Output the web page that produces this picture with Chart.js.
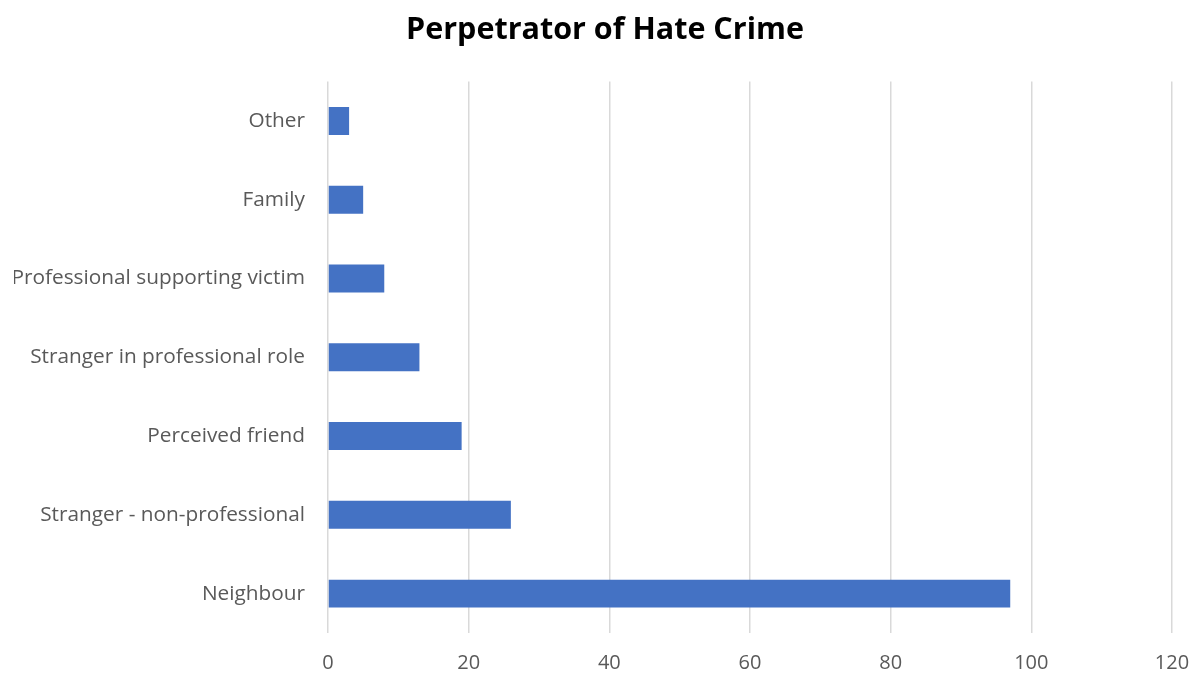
<!DOCTYPE html>
<html>
<head>
<meta charset="utf-8">
<script src="https://cdn.jsdelivr.net/npm/chart.js@4.4.1/dist/chart.umd.min.js"></script>
<style>
  html, body { margin: 0; padding: 0; background: #ffffff; }
  #wrap { width: 1197px; height: 675px; position: relative; }
</style>
</head>
<body>
<div id="wrap"><canvas id="c" width="1197" height="675"></canvas></div>
<script>
const categories = ['Other', 'Family', 'Professional supporting victim', 'Stranger in professional role', 'Perceived friend', 'Stranger - non-professional', 'Neighbour'];
const counts = [3, 5, 8, 13, 19, 26, 97];
const xTicks = [0, 20, 40, 60, 80, 100, 120];
const chartTitle = 'Perpetrator of Hate Crime';

new Chart(document.getElementById('c'), {
  type: 'bar',
  data: {
    labels: categories,
    datasets: [{
      data: counts,
      backgroundColor: '#4472c4',
      borderWidth: 0,
      categoryPercentage: 1.0,
      barPercentage: 0.355
    }]
  },
  options: {
    indexAxis: 'y',
    responsive: false,
    animation: false,
    devicePixelRatio: 1,
    layout: { padding: { left: 14, right: 1, top: 12, bottom: 0 } },
    plugins: {
      legend: { display: false },
      tooltip: { enabled: false },
      title: {
        display: true,
        text: chartTitle,
        color: '#000000',
        font: { family: 'Open Sans', size: 30.5, weight: 'bold' },
        padding: { top: 0, bottom: 33 }
      }
    },
    scales: {
      x: {
        min: xTicks[0],
        max: xTicks[xTicks.length - 1],
        afterBuildTicks: (scale) => { scale.ticks = xTicks.map(v => ({ value: v })); },
        grid: { color: '#d9d9d9', lineWidth: 1.5, drawTicks: false },
        border: { display: false },
        ticks: { color: '#595959', font: { family: 'Open Sans', size: 20 }, padding: 18 },
        afterFit: (scale) => { scale.height = 42; scale.paddingRight = 25; }
      },
      y: {
        grid: { display: false },
        border: { display: false },
        ticks: { color: '#595959', font: { family: 'Open Sans', size: 20.8 }, padding: 15 },
        afterFit: (scale) => { scale.width = 314; }
      }
    }
  }
});
</script>
</body>
</html>
